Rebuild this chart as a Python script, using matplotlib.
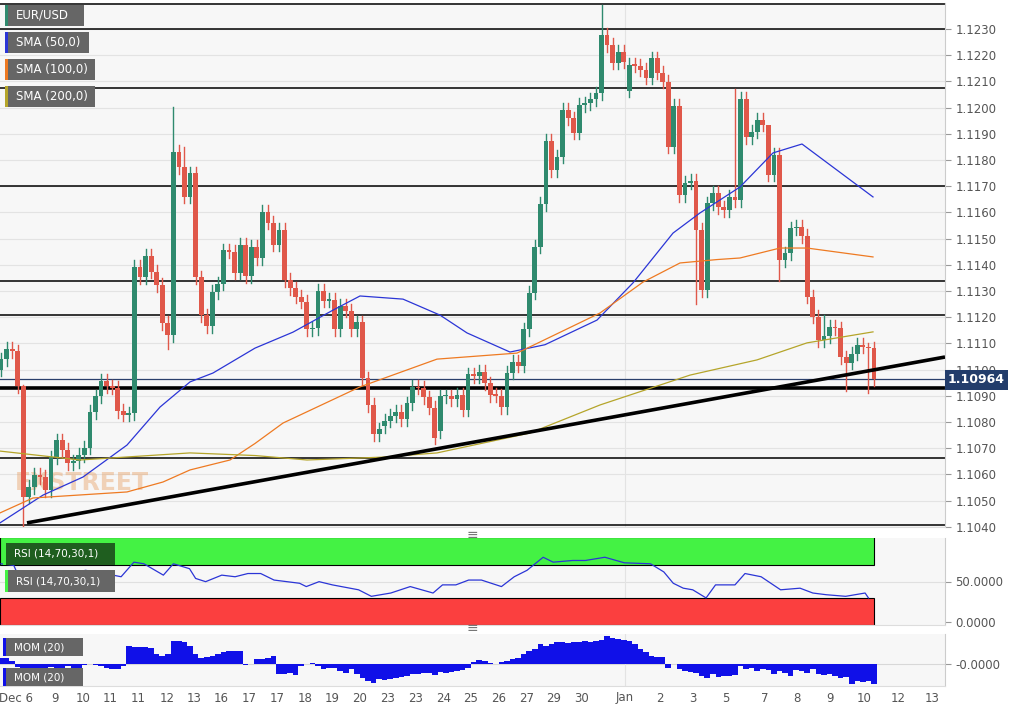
import matplotlib
matplotlib.use("Agg")
import matplotlib.pyplot as plt
import numpy as np
from matplotlib.patches import Rectangle

closes = [
1.1104,1.1108,1.1107,1.10937,1.10514,1.10552,1.10598,1.10590,1.10540,1.10666,1.10731,1.10693,1.10643,1.10650,1.10674,1.10701,
1.10838,1.10899,1.10957,1.10937,1.10930,1.10842,1.10827,1.10834,1.11392,1.11353,1.11434,1.11373,1.11323,1.11178,1.11132,1.11831,
1.11773,1.11659,1.11750,1.11353,1.11208,1.11166,1.11296,1.11327,1.11456,1.11450,1.11369,1.11476,1.11357,1.11468,1.11426,1.11602,
1.11561,1.11476,1.11533,1.11342,1.11310,1.11278,1.11259,1.11155,1.11158,1.11300,1.11263,1.11266,1.11155,1.11243,1.11225,1.11155,
1.11180,1.10967,1.10865,1.10754,1.10772,1.10805,1.10824,1.10839,1.10811,1.10871,1.10935,1.10930,1.10894,1.10855,1.10740,1.10899,
1.10899,1.10887,1.10903,1.10846,1.10983,1.10975,1.10992,1.10948,1.10903,1.10900,1.10856,1.10988,1.11030,1.11014,1.11154,1.11294,
1.11469,
1.11632,1.11873,1.11762,1.11813,1.11991,1.11959,1.11904,1.12010,1.12016,1.12032,1.12055,1.12277,1.12239,1.12171,1.12213,1.12175,
1.12163,1.12160,1.12144,1.12114,1.12188,1.12133,1.12099,1.11851,1.12006,1.11666,1.11713,1.11721,1.11533,1.11304,1.11635,1.11675,
1.11619,
1.11609,1.11660,1.11647,1.12033,1.11887,1.11908,1.11953,1.11934,1.11743,1.11819,1.11418,1.11444,1.11539,1.11545,1.11510,1.11278,
1.11202,1.11113,1.11128,1.11164,1.11158,1.11047,1.11027,1.11060,1.11094,1.11087,1.11081,1.10963]
N = len(closes)
open_override = {0: 1.1100, 79: 1.10765, 69: 1.10783, 113: 1.12065, 116: 1.12145}
high_override = {4: 1.1094, 31: 1.12002, 33: 1.1185, 108: 1.1239, 132: 1.1207, 138: 1.1185, 148: 1.1121, 156: 1.1110}
low_override = {4: 1.1040, 125: 1.1125, 140: 1.1134, 30: 1.1108, 152: 1.1092, 156: 1.1091}

sma50_x = [0, 43, 83, 127, 160, 190, 213, 255, 293, 333, 360, 403, 440, 467, 510, 545, 597, 633, 673, 700, 740, 773, 802, 873]
sma50_v = [1.10415,1.10521,1.10590,1.10712,1.10857,1.10953,1.10987,1.11082,1.11143,1.11227,1.11281,1.11269,1.11208,1.11140,1.11067,1.11095,1.11189,1.11331,1.11521,1.11598,1.11697,1.11827,1.11861,1.11659]
sma100_x = [0, 33, 127, 163, 190, 230, 255, 283, 360, 437, 517, 600, 643, 680, 717, 740, 780, 807, 873]
sma100_v = [1.10453,1.10510,1.10533,1.10571,1.10617,1.10655,1.10718,1.10796,1.10934,1.11040,1.11063,1.11216,1.11334,1.11407,1.11420,1.11426,1.11464,1.11464,1.11430]
sma200_x = [0, 80, 190, 255, 307, 383, 437, 530, 600, 690, 757, 807, 873]
sma200_v = [1.10689,1.10655,1.10682,1.10672,1.10655,1.10666,1.10682,1.10758,1.10865,1.10979,1.11037,1.11102,1.11144]

hlines_thin = [1.12395, 1.1230, 1.12073, 1.1170, 1.11338, 1.11207, 1.10663, 1.10407]
hline_thick = 1.1093
last_price = 1.10964
trend_x = [27, 945]
trend_v = [1.10415, 1.11048]

rsi_idx = [0,2.3,4.1,7,9.3,11.7,15.2,18.7,21.6,23.9,25.7,29.2,31,33.9,35,36.8,39.7,42.1,44.4,46.7,49.1,51.4,53.7,54.9,57.2,59.6,64.3,66.6,70.1,73.6,77.7,79.4,81.8,84.1,86.4,90,92.3,94.6,97.5,99.3,102.8,105.1,108.6,112.1,116.8,119.2,120.9,122.7,124.4,126.8,128.5,132,133.8,136.7,140.2,143.7,146,148.4,151.9,155.4,156]
rsi_v = [72,70,41.7,43.7,41.7,57.9,63.9,59.9,55.9,74,72,57.9,72,65.9,53.8,49.8,57.9,55.9,59.9,59.9,51.8,49.8,47.8,43.7,49.8,45.8,39.7,31.6,35.7,43.7,35.7,45.8,45.8,51.8,51.8,43.7,55.9,63.9,80.1,74,76.1,76.1,80.1,73.2,72,61.9,47.8,41.7,39.7,29.6,45.8,45.8,59.9,55.9,39.7,41.7,35.7,33.6,31.6,35.7,29.6]

mom = [18,18,10,-8,-12,-14,-10,-12,-16,-8,-12,-10,-6,-12,-10,-2,0,-3,-5,-10,-15,-15,-6,55,50,52,52,48,30,25,30,
70,68,65,55,30,18,20,25,30,35,38,40,38,-3,2,15,15,18,25,-30,-28,-25,-32,-5,0,5,-5,-15,-10,-12,-20,-25,-15,
-30,-40,-50,-55,-45,-48,-45,-40,-38,-35,-30,-28,-25,-25,-32,-22,-25,-22,-20,-18,-12,8,12,10,5,2,8,10,15,
18,30,40,45,60,55,60,65,65,62,65,65,68,65,70,72,85,78,75,72,70,60,45,35,25,22,20,-10,2,
-15,-20,-22,-25,-35,-40,-30,-38,-36,-35,-32,-5,-15,-12,-20,-15,-18,-28,-20,-25,-35,-18,-20,-25,-15,
-30,-32,-28,-35,-40,-38,-60,-50,-52,-50,-60]
mom = mom[:N]

tick_px = [16,55,83,110,138,167,194,221,249,277,305,332,360,388,416,444,471,499,527,554,582,625,660,693,726,765,797,830,864,898,932]
tick_lbl = ["Dec 6","9","10","11","11","12","13","16","17","17","18","19","20","23","23","24","25","26","27","29","30","Jan","2","3","5","7","8","9","10","12","13"]
price_ticks = [1.1040,1.1050,1.1060,1.1070,1.1080,1.1090,1.1100,1.1110,1.1120,1.1130,1.1140,1.1150,1.1160,1.1170,1.1180,1.1190,1.1200,1.1210,1.1220,1.1230]

W, H = 1016, 711
fig = plt.figure(figsize=(W/100, H/100), dpi=100)
fig.patch.set_facecolor("white")
def fr(x0, y0, x1, y1):
    return [x0/W, 1-y1/H, (x1-x0)/W, (y1-y0)/H]
bg = "#f7f7f7"
PW = 945
ax = fig.add_axes(fr(0, 3, PW, 527))
ax_r = fig.add_axes(fr(0, 538, PW, 625))
ax_m = fig.add_axes(fr(0, 634, PW, 686))
for a in (ax, ax_r, ax_m):
    a.set_facecolor(bg)
    a.set_xlim(0, PW)
    for s in ("top", "left"):
        a.spines[s].set_visible(False)
    a.spines["right"].set_color("#cccccc")
    a.spines["bottom"].set_color("#dddddd")
    a.yaxis.tick_right()
    a.tick_params(axis="y", colors="#555555", labelsize=8.5, length=4, direction="out", color="#999999")
    a.tick_params(axis="x", length=0)
    a.set_xticks([])

ymin = 1.1230 - (527-29)/26200
ymax = 1.1230 - (3-29)/26200
ax.set_ylim(ymin, ymax)
ax.set_yticks(price_ticks)
ax.set_yticklabels([f"{p:.4f}" for p in price_ticks])
for p in price_ticks:
    ax.axhline(p, color="#e3e3e3", lw=0.8, zorder=0)
ax.axvline(625, color="#e3e3e3", lw=0.8, zorder=0)

xs = np.linspace(1, 874, N)
spacing = xs[1]-xs[0]
green, red = "#2f8a6e", "#e0584a"
prev = closes[0]
for i, c in enumerate(closes):
    o = open_override.get(i, closes[i-1] if i > 0 else c)
    hi = high_override.get(i, max(o, c) + 0.00025)
    lo = low_override.get(i, min(o, c) - 0.00025)
    col = green if c >= o else red
    ax.plot([xs[i], xs[i]], [lo, hi], color=col, lw=1, zorder=3)
    bh = max(abs(c-o), 0.00005)
    ax.add_patch(Rectangle((xs[i]-2.4, min(o, c)), 4.8, bh, color=col, zorder=4, lw=0))

for p in hlines_thin:
    ax.axhline(p, color="black", lw=1.1, zorder=2)
ax.axhline(hline_thick, color="black", lw=2.6, zorder=2)
ax.axhline(last_price, color="#2a3f6b", lw=0.9, zorder=2)
ax.plot(sma50_x, sma50_v, color="#2b35d6", lw=0.9, zorder=5)
ax.plot(sma100_x, sma100_v, color="#ee7a22", lw=0.9, zorder=5)
ax.plot(sma200_x, sma200_v, color="#b5a52a", lw=0.9, zorder=5)
ax.plot(trend_x, trend_v, color="black", lw=2.6, zorder=6, solid_capstyle="butt")

ax.text(15, 1.1054, "FXSTREET", fontsize=17, fontweight="bold", color="#e8a36a", alpha=0.45, zorder=1)

# price label
fig.text(948/W, 1-380/H, "1.10964", fontsize=9, fontweight="bold", color="white", va="center",
         bbox=dict(boxstyle="square,pad=0.25", fc="#233d6b", ec="none"))

def label(x0, y0, x1, y1, txt, fc="#666666", stripe="#2f8a6e", fs=8.5):
    fig.patches.append(Rectangle((x0/W, 1-y1/H), (x1-x0)/W, (y1-y0)/H, transform=fig.transFigure, fc=fc, ec="none", zorder=10))
    fig.patches.append(Rectangle((x0/W, 1-y1/H), 2.5/W, (y1-y0)/H, transform=fig.transFigure, fc=stripe, ec="none", zorder=11))
    fig.text((x0+11)/W, 1-(y0+y1)/2/H, txt, color="white", fontsize=fs, va="center", zorder=12)

label(5, 5, 84, 26, "EUR/USD", stripe="#2f8a6e")
label(5, 32, 89, 53, "SMA (50,0)", stripe="#2b35d6")
label(5, 59, 95, 80, "SMA (100,0)", stripe="#ee7a22")
label(5, 86, 95, 107, "SMA (200,0)", stripe="#b5a52a")

# RSI panel
ax_r.set_ylim(-4, 104)
ax_r.set_yticks([0, 50])
ax_r.set_yticklabels(["0.0000", "50.0000"])
ax_r.axhline(50, color="#e0e0e0", lw=0.8, zorder=0)
ax_r.axvline(625, color="#e3e3e3", lw=0.8, zorder=0)
ax_r.add_patch(Rectangle((0, 70), 874, 35, fc="#44f244", ec="black", lw=0.8, zorder=1))
ax_r.add_patch(Rectangle((0, -4), 874, 34, fc="#fb3f3f", ec="black", lw=0.8, zorder=1))
ax_r.plot(1 + np.array(rsi_idx)*spacing, rsi_v, color="#2b35d6", lw=0.9, zorder=3)
label(3, 543, 115, 565, "RSI (14,70,30,1)", fc="#1f5e1f", stripe="#44f244", fs=7.5)
label(5, 570, 115, 592, "RSI (14,70,30,1)", fc="#666666", stripe="#44f244", fs=7.5)

# MOM panel
ax_m.set_ylim(-65, 90)
ax_m.set_yticks([0])
ax_m.set_yticklabels(["-0.0000"])
ax_m.axhline(0, color="#d8d8d8", lw=0.8, zorder=0)
ax_m.axvline(625, color="#e3e3e3", lw=0.8, zorder=0)
ax_m.bar(xs, mom, width=spacing, color="#1010e8", edgecolor="none", zorder=2)
label(3, 638, 83, 656, "MOM (20)", fc="#666666", stripe="#1010e8", fs=7.5)
label(3, 668, 83, 686, "MOM (20)", fc="#666666", stripe="#1010e8", fs=7.5)

for yy in (535, 628):
    fig.text(472/W, 1-yy/H, "≡", fontsize=10, color="#777777", ha="center", va="center")

for px, t in zip(tick_px, tick_lbl):
    fig.text(px/W, 1-698/H, t, fontsize=8.5, color="#555555", ha="center", va="center")

fig.savefig("out.png", dpi=100)
